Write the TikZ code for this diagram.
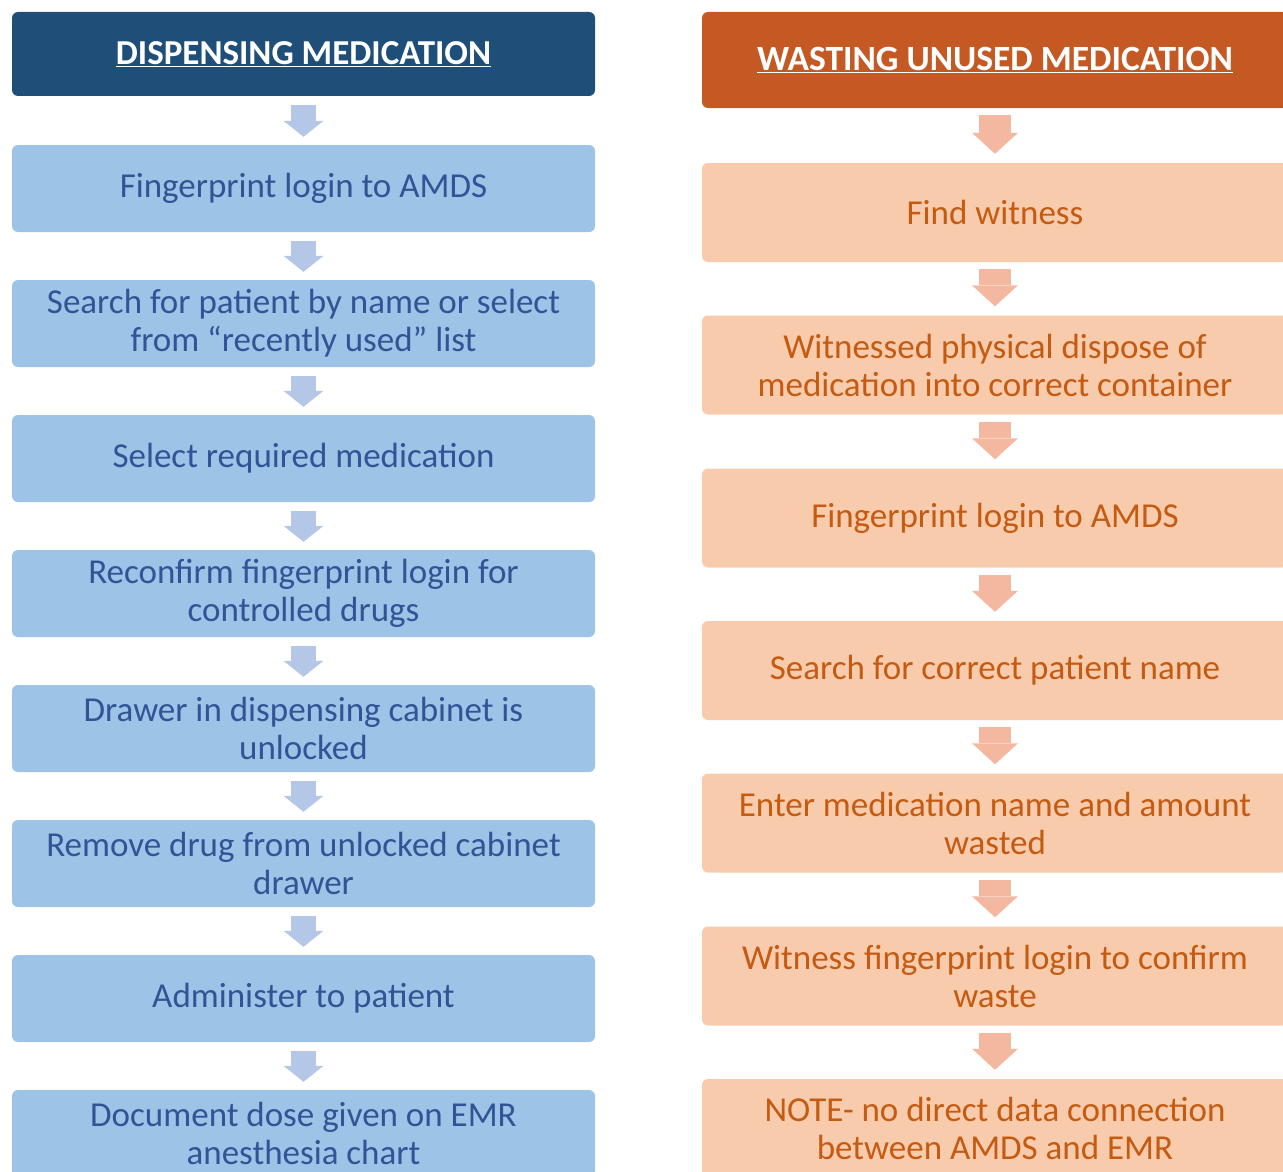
\documentclass[tikz,border=0pt]{standalone}
\usepackage{fontspec}
\setmainfont{Carlito}
\usetikzlibrary{arrows.meta, positioning}
\definecolor{dispdark}{RGB}{31,78,121}
\definecolor{displight}{RGB}{157,195,230}
\definecolor{disptext}{RGB}{47,85,151}
\definecolor{disparrow}{RGB}{180,199,231}
\definecolor{wastedark}{RGB}{196,89,36}
\definecolor{wastelight}{RGB}{248,203,173}
\definecolor{wastetext}{RGB}{197,90,17}
\definecolor{wastearrow}{RGB}{244,184,160}

\begin{document}
\begin{tikzpicture}[
    x=1pt, y=-1pt,
    box/.style={rounded corners=6pt, inner sep=0pt, align=center, font=\fontsize{35}{38}\selectfont},
    disphead/.style={box, fill=dispdark, text=white, minimum width=583pt, minimum height=84pt, font=\bfseries\fontsize{35}{38}\selectfont},
    dispstep/.style={box, fill=displight, text=disptext, minimum width=583pt, minimum height=87pt},
    wastehead/.style={box, fill=wastedark, text=white, minimum width=586pt, minimum height=96pt, font=\bfseries\fontsize{35.5}{38}\selectfont},
    wastestep/.style={box, fill=wastelight, text=wastetext, minimum width=586pt, minimum height=99pt},
    disparr/.style={draw=disparrow, line width=25pt, -{Triangle[width=40pt, length=16pt, line width=0pt]}, shorten <=9pt, shorten >=8pt},
    wastearr/.style={draw=wastearrow, line width=32pt, -{Triangle[width=46pt, length=21pt, line width=0pt]}, shorten <=7pt, shorten >=9pt}
]
    \useasboundingbox (0,0) rectangle (1283,1172);
    \clip (0,0) rectangle (1283,1172);

    % Dispensing column (left)
    \node[disphead] (dh) at (303.5, 54) {\underline{DISPENSING MEDICATION}};
    \node[dispstep] (d1) at (303.5, 188.5) {Fingerprint login to AMDS};
    \node[dispstep] (d2) at (303.5, 323.5) {Search for patient by name or select\\from “recently used” list};
    \node[dispstep] (d3) at (303.5, 458.5) {Select required medication};
    \node[dispstep] (d4) at (303.5, 593.5) {Reconfirm fingerprint login for\\controlled drugs};
    \node[dispstep] (d5) at (303.5, 728.5) {Drawer in dispensing cabinet is\\unlocked};
    \node[dispstep] (d6) at (303.5, 863.5) {Remove drug from unlocked cabinet\\drawer};
    \node[dispstep] (d7) at (303.5, 998.5) {Administer to patient};
    \node[dispstep] (d8) at (303.5, 1133.5) {Document dose given on EMR\\anesthesia chart};

    \draw[disparr] (dh) -- (d1);
    \draw[disparr] (d1) -- (d2);
    \draw[disparr] (d2) -- (d3);
    \draw[disparr] (d3) -- (d4);
    \draw[disparr] (d4) -- (d5);
    \draw[disparr] (d5) -- (d6);
    \draw[disparr] (d6) -- (d7);
    \draw[disparr] (d7) -- (d8);

    % Wasting column (right)
    \node[wastehead] (wh) at (995, 60) {\underline{WASTING UNUSED MEDICATION}};
    \node[wastestep] (w1) at (995, 212.5) {Find witness};
    \node[wastestep] (w2) at (995, 365) {Witnessed physical dispose of\\medication into correct container};
    \node[wastestep] (w3) at (995, 518) {Fingerprint login to AMDS};
    \node[wastestep] (w4) at (995, 670.5) {Search for correct patient name};
    \node[wastestep] (w5) at (995, 823) {Enter medication name and amount\\wasted};
    \node[wastestep] (w6) at (995, 976) {Witness fingerprint login to confirm\\waste};
    \node[wastestep] (w7) at (995, 1128.5) {NOTE- no direct data connection\\between AMDS and EMR};

    \draw[wastearr] (wh) -- (w1);
    \draw[wastearr] (w1) -- (w2);
    \draw[wastearr] (w2) -- (w3);
    \draw[wastearr] (w3) -- (w4);
    \draw[wastearr] (w4) -- (w5);
    \draw[wastearr] (w5) -- (w6);
    \draw[wastearr] (w6) -- (w7);
\end{tikzpicture}
\end{document}
